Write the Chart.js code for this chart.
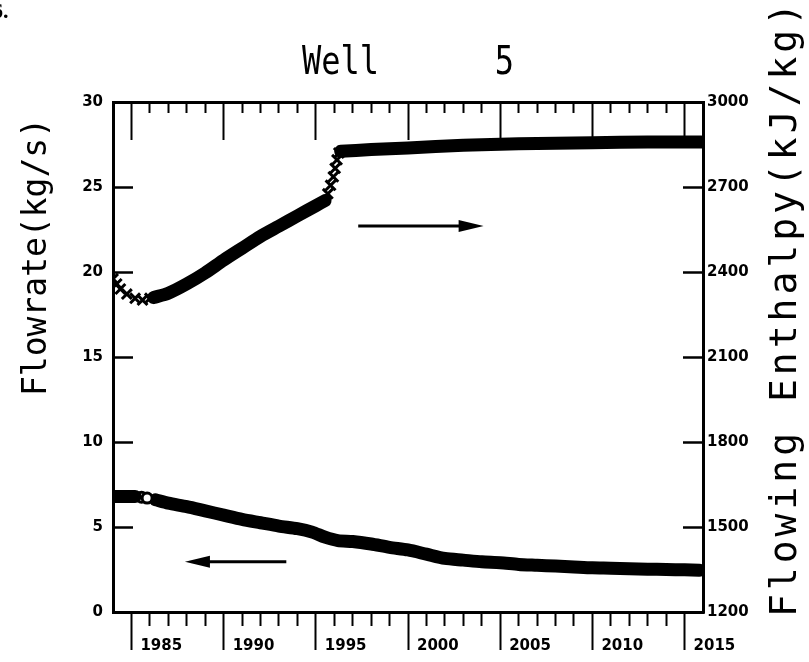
<!DOCTYPE html>
<html>
<head>
<meta charset="utf-8">
<script src="https://cdn.jsdelivr.net/npm/chart.js@4.4.0/dist/chart.umd.min.js"></script>
<style>
  html, body { margin: 0; padding: 0; background: #fff; }
  #wrap { position: relative; width: 809px; height: 662px; }
</style>
</head>
<body>
<div id="wrap"><canvas id="well5"></canvas></div>
<script>
// values (years as decimals)
const flowYears = [1984.0, 1984.3, 1984.6, 1984.9, 1985.2, 1985.55, 1985.85,
  1986.3, 1987, 1988, 1989, 1990, 1991, 1992, 1993, 1994, 1994.8, 1995.5, 1996.2,
  1997, 1998, 1999, 2000, 2001, 2002, 2003, 2004, 2005, 2006, 2007, 2008, 2009,
  2010, 2011, 2012, 2013, 2014, 2015, 2015.8];
const flowRate = [6.8, 6.8, 6.8, 6.8, 6.8, 6.75, 6.7,
  6.6, 6.4, 6.2, 5.95, 5.7, 5.45, 5.25, 5.05, 4.9, 4.7, 4.4, 4.2,
  4.15, 4.0, 3.8, 3.65, 3.4, 3.15, 3.05, 2.95, 2.9, 2.8, 2.75, 2.7, 2.65,
  2.6, 2.58, 2.55, 2.52, 2.5, 2.48, 2.45];
// b = dense band of markers, o = single circle
const flowMark = ['b', 'b', 'b', 'b', 'b', 'o', 'o',
  'b', 'b', 'b', 'b', 'b', 'b', 'b', 'b', 'b', 'b', 'b', 'b',
  'b', 'b', 'b', 'b', 'b', 'b', 'b', 'b', 'b', 'b', 'b', 'b', 'b',
  'b', 'b', 'b', 'b', 'b', 'b', 'b'];

const enthYears = [1984.0, 1984.2, 1984.4, 1984.75, 1985.2, 1985.6, 1986.0,
  1986.2, 1987, 1988, 1989, 1990, 1991, 1992, 1993, 1994, 1995, 1995.5,
  1995.65, 1995.8, 1995.95, 1996.05, 1996.15, 1996.25,
  1996.35, 1998, 2000, 2003, 2006, 2010, 2013, 2015.9];
const enthalpy = [2376, 2358, 2340, 2322, 2307, 2301, 2307,
  2310, 2325, 2358, 2397, 2442, 2484, 2526, 2562, 2598, 2634, 2652,
  2676, 2706, 2736, 2766, 2796, 2820,
  2826, 2832, 2838, 2847, 2853, 2856, 2859, 2859];
// x = single cross, b = dense band
const enthMark = ['x', 'x', 'x', 'x', 'x', 'x', 'x',
  'b', 'b', 'b', 'b', 'b', 'b', 'b', 'b', 'b', 'b', 'b',
  'x', 'x', 'x', 'x', 'x', 'x',
  'b', 'b', 'b', 'b', 'b', 'b', 'b', 'b'];

const yearTicks = [];
for (let yr = 1985; yr <= 2015; yr++) yearTicks.push(yr);
const flowTicks = [0, 5, 10, 15, 20, 25, 30];
const enthTicks = [1200, 1500, 1800, 2100, 2400, 2700, 3000];

const chartTitle = 'Well      5';
const leftTitle = 'Flowrate(kg/s)';
const rightTitle = 'Flowing Enthalpy(kJ/kg)';

// split a series into runs of the same marker kind
function runs(xs, ys, kinds) {
  const out = [];
  xs.forEach((x, i) => {
    const last = out[out.length - 1];
    if (!last || last.kind !== kinds[i]) out.push({ kind: kinds[i], pts: [] });
    out[out.length - 1].pts.push({ x: x, y: ys[i] });
  });
  return out;
}

function toDataset(run, axis) {
  const base = { data: run.pts, yAxisID: axis, borderColor: '#000', backgroundColor: '#000' };
  if (run.kind === 'b') {
    return Object.assign(base, {
      showLine: true, borderWidth: 13, pointRadius: 0, tension: 0.25,
      borderCapStyle: 'round', borderJoinStyle: 'round'
    });
  }
  if (run.kind === 'o') {
    return Object.assign(base, {
      showLine: false, pointStyle: 'circle', pointRadius: 5, pointBorderWidth: 3,
      pointBackgroundColor: '#fff'
    });
  }
  return Object.assign(base, {
    showLine: false, pointStyle: 'crossRot', pointRadius: 7, pointBorderWidth: 3
  });
}

const datasets = runs(enthYears, enthalpy, enthMark).map(r => toDataset(r, 'y2'))
  .concat(runs(flowYears, flowRate, flowMark).map(r => toDataset(r, 'y')));

const tickFont = { family: 'DejaVu Sans', size: 15, weight: 'bold' };

function arrow(ctx, x1, x2, y) {
  const dir = x2 > x1 ? 1 : -1;
  ctx.beginPath();
  ctx.moveTo(x1, y);
  ctx.lineTo(x2 - dir * 18, y);
  ctx.stroke();
  ctx.beginPath();
  ctx.moveTo(x2, y);
  ctx.lineTo(x2 - dir * 25, y - 6);
  ctx.lineTo(x2 - dir * 25, y + 6);
  ctx.closePath();
  ctx.fill();
}

const annotate = {
  id: 'annotate',
  afterDraw(chart) {
    const { ctx } = chart;
    const x = chart.scales.x, y = chart.scales.y;
    ctx.save();
    ctx.fillStyle = '#000';
    ctx.strokeStyle = '#000';
    ctx.textBaseline = 'middle';

    ctx.font = 'bold 22px "Liberation Serif"';
    ctx.textAlign = 'left';
    ctx.fillText('6.', -8, 12);

    // title, a little taller than the plain mono face
    ctx.save();
    ctx.translate(408, 64);
    ctx.scale(1, 1.2);
    ctx.font = '32px "DejaVu Sans Mono"';
    ctx.textAlign = 'center';
    ctx.fillText(chartTitle, 0, 0);
    ctx.restore();

    ctx.textAlign = 'center';
    ctx.save();
    ctx.translate(37, 257);
    ctx.rotate(-Math.PI / 2);
    ctx.font = '33px "DejaVu Sans Mono"';
    ctx.fillText(leftTitle, 0, 0);
    ctx.restore();

    ctx.save();
    ctx.translate(786, 308);
    ctx.rotate(-Math.PI / 2);
    ctx.font = '38px "DejaVu Sans Mono"';
    ctx.letterSpacing = '4px';
    ctx.fillText(rightTitle, 0, 0);
    ctx.restore();

    // direction arrows
    ctx.lineWidth = 3;
    arrow(ctx, x.getPixelForValue(1997.3), x.getPixelForValue(2004.1), y.getPixelForValue(22.7));
    arrow(ctx, x.getPixelForValue(1993.4), x.getPixelForValue(1987.9), y.getPixelForValue(2.95));
    ctx.restore();
  }
};

new Chart(document.getElementById('well5'), {
  type: 'scatter',
  data: { datasets: datasets },
  options: {
    responsive: true,
    maintainAspectRatio: false,
    animation: false,
    layout: { padding: { top: 102, left: 0, right: 0, bottom: 0 } },
    plugins: { legend: { display: false }, tooltip: { enabled: false } },
    scales: {
      x: {
        type: 'linear', position: 'bottom', min: 1984, max: 2016,
        afterBuildTicks: s => { s.ticks = yearTicks.map(v => ({ value: v })); },
        afterFit: s => { s.height = 50; },
        ticks: {
          autoSkip: false, maxRotation: 0, align: 'start', labelOffset: 9, padding: -13,
          color: '#000', font: tickFont,
          callback: v => (v % 5 === 0 ? String(v) : '')
        },
        grid: {
          drawOnChartArea: false, tickLength: 38, tickWidth: 2, tickColor: '#000',
          tickBorderDash: c => (c.tick && c.tick.value % 5 === 0 ? [] : [12, 100])
        },
        border: { display: true, color: '#000', width: 3 }
      },
      xTop: {
        type: 'linear', position: 'top', min: 1984, max: 2016,
        afterBuildTicks: s => { s.ticks = yearTicks.map(v => ({ value: v })); },
        afterFit: s => { s.height = 0; },
        ticks: { display: false },
        grid: {
          drawOnChartArea: false, tickLength: -38, tickWidth: 2, tickColor: '#000',
          tickBorderDash: c => (c.tick && c.tick.value % 5 === 0 ? [] : [0, 27, 11, 100])
        },
        border: { display: true, color: '#000', width: 3 }
      },
      y: {
        type: 'linear', position: 'left', min: 0, max: 30,
        afterBuildTicks: s => { s.ticks = flowTicks.map(v => ({ value: v })); },
        afterFit: s => { s.width = 113; },
        ticks: { padding: 30, color: '#000', font: tickFont, callback: v => String(v) },
        grid: { drawOnChartArea: false, tickLength: -20, tickWidth: 2.5, tickColor: '#000' },
        border: { display: true, color: '#000', width: 3 }
      },
      y2: {
        type: 'linear', position: 'right', min: 1200, max: 3000,
        afterBuildTicks: s => { s.ticks = enthTicks.map(v => ({ value: v })); },
        afterFit: s => { s.width = 106; },
        ticks: { padding: 24, color: '#000', font: tickFont, callback: v => String(v) },
        grid: { drawOnChartArea: false, tickLength: -20, tickWidth: 2.5, tickColor: '#000' },
        border: { display: true, color: '#000', width: 3 }
      }
    }
  },
  plugins: [annotate]
});
</script>
</body>
</html>
